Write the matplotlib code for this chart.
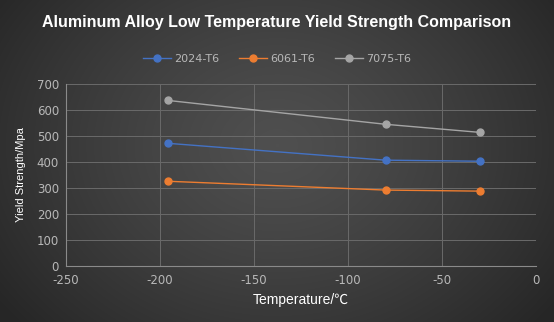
import numpy as np
import matplotlib
matplotlib.use("Agg")
import matplotlib.pyplot as plt

plt.rcParams["axes.unicode_minus"] = False

temps = [-196, -80, -30]
s2024 = [472, 407, 403]
s6061 = [326, 292, 288]
s7075 = [637, 545, 514]
series_names = ["2024-T6", "6061-T6", "7075-T6"]
colors = ["#4472c4", "#ed7d31", "#a5a5a5"]
xticks = [-250, -200, -150, -100, -50, 0]
yticks = [0, 100, 200, 300, 400, 500, 600, 700]

W, H = 554, 322
fig = plt.figure(figsize=(W / 100, H / 100), dpi=100)

# radial gradient background
bg = fig.add_axes([0, 0, 1, 1], zorder=0)
yy, xx = np.mgrid[0:H, 0:W]
cx, cy = W * 0.5, H * 0.45
r = np.sqrt(((xx - cx) / (W * 0.62)) ** 2 + ((yy - cy) / (H * 0.85)) ** 2)
r = np.clip(r, 0, 1)
light, dark = 0.31, 0.15
val = light - (light - dark) * r ** 1.3
img = np.dstack([val, val, val])
bg.imshow(img, aspect="auto", extent=[0, 1, 0, 1], origin="upper")
bg.axis("off")

ax = fig.add_axes([66 / W, 1 - 266 / H, (536 - 66) / W, (266 - 84) / H], zorder=1)
ax.patch.set_alpha(0)
for name, vals, c in zip(series_names, [s2024, s6061, s7075], colors):
    ax.plot(temps, vals, color=c, lw=1.0, marker="o", ms=5, label=name)

ax.set_xlim(-250, 0)
ax.set_ylim(0, 700)
ax.set_xticks(xticks)
ax.set_yticks(yticks)
ax.grid(True, color="#6a6a6a", lw=0.7)
ax.set_axisbelow(True)
for s in ["top", "right"]:
    ax.spines[s].set_visible(False)
for s in ["left", "bottom"]:
    ax.spines[s].set_color("#8a8a8a")
    ax.spines[s].set_linewidth(0.8)
ax.tick_params(length=0, colors="#b8b8b8", labelsize=8.5)
ax.tick_params(axis="x", pad=6)
ax.tick_params(axis="y", pad=5)
for lab in ax.get_xticklabels() + ax.get_yticklabels():
    lab.set_family("DejaVu Sans")

ax.set_xlabel("Temperature/\u2103", color="white", fontsize=10,
              family=["Liberation Sans", "Noto Sans CJK SC", "DejaVu Sans"], labelpad=4)
ax.set_ylabel("Yield Strength/Mpa", color="white", fontsize=8, family="Liberation Sans", labelpad=8)

fig.text(0.5, 1 - 23 / H, "Aluminum Alloy Low Temperature Yield Strength Comparison",
         ha="center", va="center", color="white", fontsize=11.5, fontweight="bold",
         family="Liberation Sans")

leg = fig.legend(loc="center", bbox_to_anchor=(0.5, 1 - 59 / H), ncol=3, frameon=False,
                 fontsize=8, labelcolor="#b8b8b8", handlelength=2.5, columnspacing=1.8,
                 handletextpad=0.3, markerscale=1.0)

fig.savefig("out.png", dpi=100)
